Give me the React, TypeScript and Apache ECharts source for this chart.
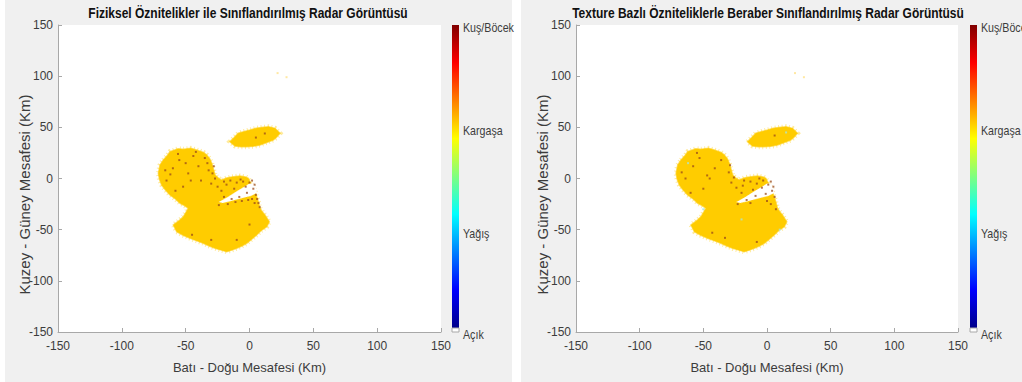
import React, { useEffect, useRef } from "react";
import * as echarts from "echarts";

const titles = [
  "Fiziksel Öznitelikler ile Sınıflandırılmış Radar Görüntüsü",
  "Texture Bazlı Özniteliklerle Beraber Sınıflandırılmış Radar Görüntüsü",
];
const xName = "Batı - Doğu Mesafesi (Km)";
const yName = "Kuzey - Güney Mesafesi (Km)";
const axisMin = -150;
const axisMax = 150;
const axisStep = 50;
const classLabels = ["Kuş/Böcek", "Kargaşa", "Yağış", "Açık"];

// outline of the main echo region (km)
const mainBlob: number[][] = [
  [-67.5, 18], [-64, 23], [-62.3, 26.2], [-56, 29], [-51.8, 28.5], [-46, 29.5], [-41.4, 27.9], [-36, 25.5],
  [-33.5, 23], [-31, 19], [-29.6, 14.8], [-28, 8], [-27, 3.4], [-24, 0], [-21.8, -1.5], [-18, 0.5], [-15.3, 1.2],
  [-11, 2], [-7.4, 2.4], [-3, 1.5], [-0.9, 0.2], [1.7, -6.4], [4.3, -12.9], [6.9, -22.7], [8.2, -29.1],
  [10, -32.5], [12.1, -35.7], [15.5, -42.2], [13.5, -47.1], [9, -51], [5.6, -55.2], [1.5, -59.5],
  [-2.2, -63.3], [-6, -66], [-10, -68.2], [-14, -70], [-17.9, -71.5], [-22, -70], [-27, -68.2],
  [-31.5, -66], [-36.2, -63.3], [-41, -61], [-46.6, -58.4], [-52, -55.5], [-57, -52], [-59.7, -45.4],
  [-55, -41], [-51.8, -37.3], [-47.9, -29.1], [-51, -26.5], [-54.4, -24.2], [-58, -20], [-62.3, -16.1],
  [-66, -11], [-68.8, -6.4], [-70.5, -1], [-71.4, 5.1], [-70.1, 13.2],
];
// clear wedge inside the main region
const holeBlob: number[][] = [
  [-24, -23], [-17, -18], [-10, -12.5], [-4, -8], [0, -5], [3.5, -5], [5.5, -10], [6, -14],
  [1, -17], [-4, -18.5], [-10, -20.5], [-16, -22.5], [-21, -24],
];
// small echo to the north-east
const smallBlob: number[][] = [
  [-15.3, 36], [-12, 40], [-8.8, 44.2], [-4, 46], [0.4, 47.4], [5, 49], [10.8, 50], [15, 50.5], [20, 49],
  [23.9, 44.2], [21, 40], [18.6, 37.6], [13, 35], [8.2, 32.7], [3, 31.5], [-2.2, 31.1], [-7, 31],
  [-11.4, 31.8],
];
// dark "Kuş/Böcek" pixels
const speckLeft: number[][] = [
  [-60, 10], [-55, 18], [-48, 5], [-65, -2], [-52, -8], [-40, 12], [-35, 20], [-44, 22], [-58, -12],
  [-30, -5], [-25, -8], [-20, -3], [-15, -2], [-10, -4], [-5, -3], [0, -4], [3, -10], [5, -16],
  [6, -20], [-2, -14], [-8, -18], [-14, -20], [-20, -18], [4, -24], [2, -20], [-3, -8], [-12, -10],
  [-29, 5], [-27, 0], [-32, 8], [-30, -60], [-45, -55], [0, -45], [-10, -60], [5, 40], [12, 44],
  [-62, 4], [-50, 15], [-38, -2], [-22, -12], [8, -28], [-6, -22], [-18, -6], [-7, -1], [2, -2],
  [4, -6], [7, -24], [-24, -26], [-17, -25], [-11, -23], [-1, -21], [-28, 12], [-33, 15], [-56, 24],
  [-46, -2], [-66, 8], [-42, 26],
];
const speckRight: number[][] = [
  [-58, 12], [-53, 20], [-47, 3], [-64, 0], [-50, -10], [-41, 10], [-36, 18], [-60, -14],
  [-28, -4], [-24, -9], [-18, -2], [-13, -3], [-8, -5], [-3, -2], [1, -6], [4, -12], [6, -18],
  [-1, -15], [-9, -17], [-16, -21], [3, -25], [-4, -9], [-11, -11], [-30, 6], [-26, 1],
  [-33, -58], [-43, -53], [-8, -62], [6, 42], [-20, -14], [7, -30], [-19, -7], [-6, 0], [3, -3],
  [5, -8], [-23, -25], [-13, -24], [0, -22], [-29, 13], [-55, 25], [-45, 0], [-67, 6],
];
const cyanRight: number[][] = [
  [-50, -30], [-20, -40], [10, -50], [15, 45], [-62, 15],
];
const faintDots: number[][] = [
  [29, 99], [22, 103],
];

const FONT = "'Liberation Sans', Arial, sans-serif";
const YELLOW = "#FFCC00";
const SQUEEZE = 0.82;

const polySeries = (pts: number[][], idx: number, fill: string, fringe: boolean) => ({
  type: "custom",
  xAxisIndex: idx,
  yAxisIndex: idx,
  coordinateSystem: "cartesian2d",
  silent: true,
  data: pts,
  encode: { x: 0, y: 1 },
  renderItem: (params: any, api: any) => {
    if (params.dataIndex !== 0) return { type: "group", children: [] };
    const p = pts.map((d) => api.coord(d));
    const children: any[] = [];
    if (fringe) {
      children.push({
        type: "polygon",
        shape: { points: p },
        style: { fill: "none", stroke: "rgba(255,210,40,0.45)", lineWidth: 5, lineDash: [1, 2.5] },
      });
      children.push({
        type: "polygon",
        shape: { points: p },
        style: { fill, stroke: "rgba(255,204,0,0.6)", lineWidth: 1.5 },
      });
    } else {
      children.push({
        type: "polygon",
        shape: { points: p },
        style: { fill, stroke: "rgba(255,230,150,0.6)", lineWidth: 1, lineDash: [1, 2] },
      });
    }
    return { type: "group", children };
  },
});

const axisCommon = {
  type: "value",
  min: axisMin,
  max: axisMax,
  interval: axisStep,
  splitLine: { show: false },
  axisLine: { show: true, onZero: false, lineStyle: { color: "#a8a8a8", width: 1 } },
  axisTick: { show: true, inside: true, length: 4, lineStyle: { color: "#a8a8a8" } },
  nameLocation: "middle",
  nameMoveOverlap: false,
};

const jet = {
  type: "linear",
  x: 0, y: 0, x2: 0, y2: 1,
  colorStops: [
    { offset: 0, color: "#800000" },
    { offset: 0.125, color: "#ff0000" },
    { offset: 0.375, color: "#ffff00" },
    { offset: 0.625, color: "#00ffff" },
    { offset: 0.875, color: "#0000ff" },
    { offset: 1, color: "#00008a" },
  ],
};

const colorbar = (x: number) => {
  const labelY = [28, 131, 234, 335];
  return [
    { type: "rect", shape: { x, y: 25, width: 7, height: 303 }, style: { fill: jet } },
    { type: "rect", shape: { x, y: 328, width: 7, height: 4 }, style: { fill: "#fff", stroke: "#a8a8a8", lineWidth: 1 } },
    ...classLabels.map((t, i) => ({
      type: "text",
      x: x + 11,
      y: labelY[i],
      scaleX: SQUEEZE,
      style: { text: t, fill: "#3c3c3c", font: `13px ${FONT}`, textVerticalAlign: "middle" },
    })),
  ];
};

export default function App() {
  const ref = useRef<HTMLDivElement>(null);
  useEffect(() => {
    const chart = echarts.init(ref.current!, null, { renderer: "svg" });
    const grids = [
      { left: 58, top: 25, width: 383, height: 307 },
      { left: 576, top: 25, width: 382, height: 307 },
    ];
    const speckStyle = (color: string, size: number, opacity = 0.85) => ({
      symbol: "rect",
      symbolSize: size,
      itemStyle: { color, opacity },
      silent: true,
    });
    chart.setOption({
      animation: false,
      backgroundColor: "#f0f0f0",
      grid: grids.map((g) => ({ ...g, show: true, backgroundColor: "#ffffff", borderWidth: 0 })),
      xAxis: [0, 1].map((i) => ({
        ...axisCommon,
        gridIndex: i,
        name: xName,
        nameGap: 29,
        axisLabel: { color: "#3c3c3c", fontSize: 12, fontFamily: FONT, margin: 8 },
        nameTextStyle: { color: "#3c3c3c", fontFamily: FONT, fontSize: 13 },
      })),
      yAxis: [0, 1].map((i) => ({
        ...axisCommon,
        gridIndex: i,
        name: yName,
        nameGap: 26,
        axisLabel: { color: "#3c3c3c", fontSize: 12, fontFamily: FONT, margin: 5 },
        nameTextStyle: { color: "#3c3c3c", fontFamily: FONT, fontSize: 15, padding: [0, 32, 0, 0] },
      })),
      graphic: [
        { type: "rect", shape: { x: 0, y: 0, width: 5, height: 382 }, style: { fill: "#fff" } },
        { type: "rect", shape: { x: 512, y: 0, width: 9, height: 382 }, style: { fill: "#fff" } },
        ...titles.map((t, i) => ({
          type: "text",
          x: i === 0 ? 248 : 768,
          y: 13,
          scaleX: 0.8,
          style: {
            text: t,
            fill: "#111",
            font: `bold 15px ${FONT}`,
            textAlign: "center",
            textVerticalAlign: "middle",
          },
        })),
        ...colorbar(452),
        ...colorbar(970),
      ],
      series: [
        polySeries(mainBlob, 0, YELLOW, true),
        polySeries(smallBlob, 0, YELLOW, true),
        polySeries(holeBlob, 0, "#ffffff", false),
        { type: "scatter", xAxisIndex: 0, yAxisIndex: 0, data: speckLeft, ...speckStyle("#9a4a1a", 2, 0.75) },
        { type: "scatter", xAxisIndex: 0, yAxisIndex: 0, data: faintDots, ...speckStyle("#ffd966", 2, 0.6) },
        polySeries(mainBlob, 1, YELLOW, true),
        polySeries(smallBlob, 1, YELLOW, true),
        polySeries(holeBlob, 1, "#ffffff", false),
        { type: "scatter", xAxisIndex: 1, yAxisIndex: 1, data: speckRight, ...speckStyle("#9a4a1a", 2, 0.75) },
        { type: "scatter", xAxisIndex: 1, yAxisIndex: 1, data: cyanRight, ...speckStyle("#9fe8f0", 2, 0.7) },
        { type: "scatter", xAxisIndex: 1, yAxisIndex: 1, data: faintDots, ...speckStyle("#ffd966", 2, 0.6) },
      ],
    });
    return () => chart.dispose();
  }, []);
  return <div ref={ref} style={{ position: "fixed", left: 0, top: 0, width: 1022, height: 382 }} />;
}
